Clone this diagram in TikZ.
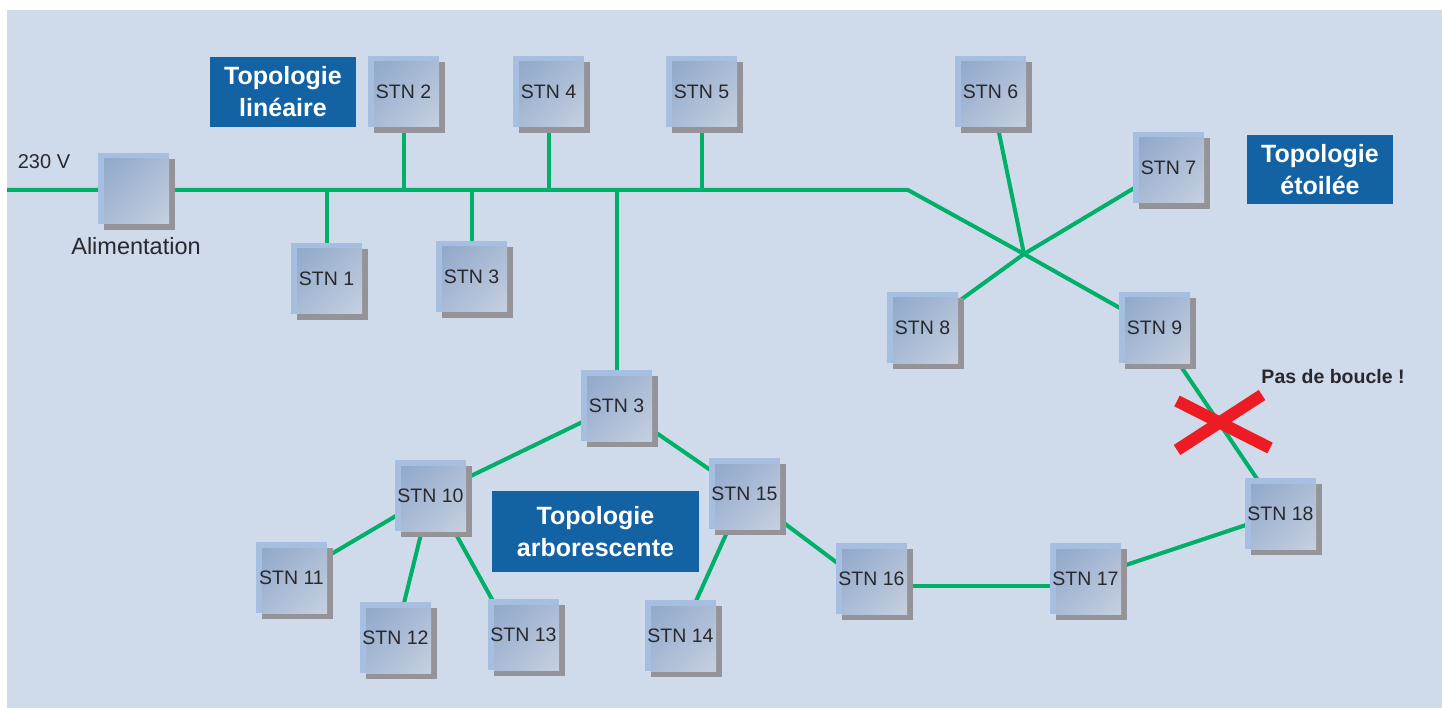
\documentclass[tikz,border=0pt]{standalone}
\usepackage{fontspec}
\setmainfont{Liberation Sans}
\usetikzlibrary{shadows,backgrounds,shadings}
\definecolor{panel}{RGB}{207,218,235}
\definecolor{bus}{RGB}{0,176,105}
\definecolor{tblue}{RGB}{18,98,164}
\definecolor{shgray}{RGB}{148,148,152}
\definecolor{gdark}{RGB}{140,165,200}
\definecolor{glight}{RGB}{198,208,224}
\definecolor{gmid}{RGB}{168,186,212}
\definecolor{strip}{RGB}{166,190,224}
\definecolor{txt}{RGB}{40,40,45}
\definecolor{xred}{RGB}{237,28,36}
\begin{document}
\begin{tikzpicture}[x=1pt,y=-1pt,
  stn/.style={rectangle, minimum size=71pt, inner sep=0pt, fill=strip, text=txt,
    font=\fontsize{19.5}{22}\selectfont,
    drop shadow={shadow xshift=6pt, shadow yshift=-6pt, fill=shgray, opacity=1},
    path picture={\shade[upper left=gdark, upper right=gmid, lower left=gmid, lower right=glight]
      ([xshift=6pt,yshift=-6pt]path picture bounding box.north west) rectangle (path picture bounding box.south east);}},
  title/.style={fill=tblue, text=white, font=\bfseries\fontsize{25}{32}\selectfont,
    align=center, inner sep=0pt, minimum width=146pt, minimum height=70pt},
  wire/.style={draw=bus, line width=4pt},
  lbl/.style={text=txt, inner sep=0pt},
  cross/.style={draw=xred, line width=12pt}]
\useasboundingbox (0,0) rectangle (1442,708);

% stations
\node[stn] (alim) at (133.5,188.5) {};
\node[lbl, font=\fontsize{23.5}{26}\selectfont] (alimlbl) at (136,246) {Alimentation};
\node[lbl, font=\fontsize{20}{24}\selectfont] (volt) at (44,162) {230 V};
\node[stn] (n1) at (326.5,278.5) {STN 1};
\node[stn] (n2) at (403.5,91.5) {STN 2};
\node[stn] (n3a) at (471.5,276.5) {STN 3};
\node[stn] (n4) at (548.5,91.5) {STN 4};
\node[stn] (n5) at (701.5,91.5) {STN 5};
\node[stn] (n6) at (990.5,91.5) {STN 6};
\node[stn] (n7) at (1168.5,167.5) {STN 7};
\node[stn] (n8) at (922.5,327.5) {STN 8};
\node[stn] (n9) at (1154.5,327.5) {STN 9};
\node[stn] (n3b) at (616.5,405.5) {STN 3};
\node[stn] (n15) at (744.5,493.5) {STN 15};
\node[stn] (n10) at (430.5,495.5) {STN 10};
\node[stn] (n11) at (291.5,577.5) {STN 11};
\node[stn] (n12) at (395.5,637.5) {STN 12};
\node[stn] (n13) at (523.5,634.5) {STN 13};
\node[stn] (n14) at (680.5,635.5) {STN 14};
\node[stn] (n16) at (871.5,578.5) {STN 16};
\node[stn] (n17) at (1085.5,578.5) {STN 17};
\node[stn] (n18) at (1280.5,513.5) {STN 18};

% titles
\node[title] (tlin) at (283,92) {Topologie\\linéaire};
\node[title, minimum height=69pt] (tet) at (1320,169.5) {Topologie\\étoilée};
\node[title, minimum width=207pt, minimum height=81pt] (tarb) at (595.5,531.5) {Topologie\\arborescente};

% wiring
\coordinate (in) at (7,190);
\coordinate (bend) at (908,190);
\coordinate (hub) at (1024,254);
\begin{scope}[on background layer]
  \fill[white] (0,0) rectangle (1442,708);
  \fill[panel] (7,10) rectangle (1442,708);
  \draw[wire] (in) -- (bend) -- (hub) -- (n9.center);
  \foreach \n in {n1,n2,n3a,n4,n5,n3b}
    \draw[wire] (\n.center) -- (\n.center |- bend);
  \draw[wire] (n6.center) -- (hub);
  \draw[wire] (n7.center) -- (hub) -- (n8.center);
  \draw[wire] (n3b.center) -- (n10.center);
  \draw[wire] (n3b.center) -- (n15.center);
  \draw[wire] (n10.center) -- (n11.center);
  \draw[wire] (n10.center) -- (n12.center);
  \draw[wire] ([xshift=4pt]n10.center) -- ([xshift=-12pt]n13.center);
  \draw[wire] (n15.center) -- (n14.center);
  \draw[wire] (n15.center) -- ([yshift=-10pt]n16.center);
  \draw[wire] ([yshift=-7pt]n16.center) -- ([yshift=-7pt]n17.center);
  \draw[wire] (n17.center) -- (n18.center);
  \draw[wire] (n9.center) -- (n18.center);
\end{scope}

% no loop
\coordinate (xa1) at (1177,401);
\coordinate (xa2) at (1270,448);
\coordinate (xb1) at (1177,450);
\coordinate (xb2) at (1262,395);
\draw[cross] (xa1) -- (xa2);
\draw[cross] (xb1) -- (xb2);
\node[lbl, font=\bfseries\fontsize{19.5}{22}\selectfont] (pdb) at (1333,377) {Pas de boucle !};
\end{tikzpicture}
\end{document}
